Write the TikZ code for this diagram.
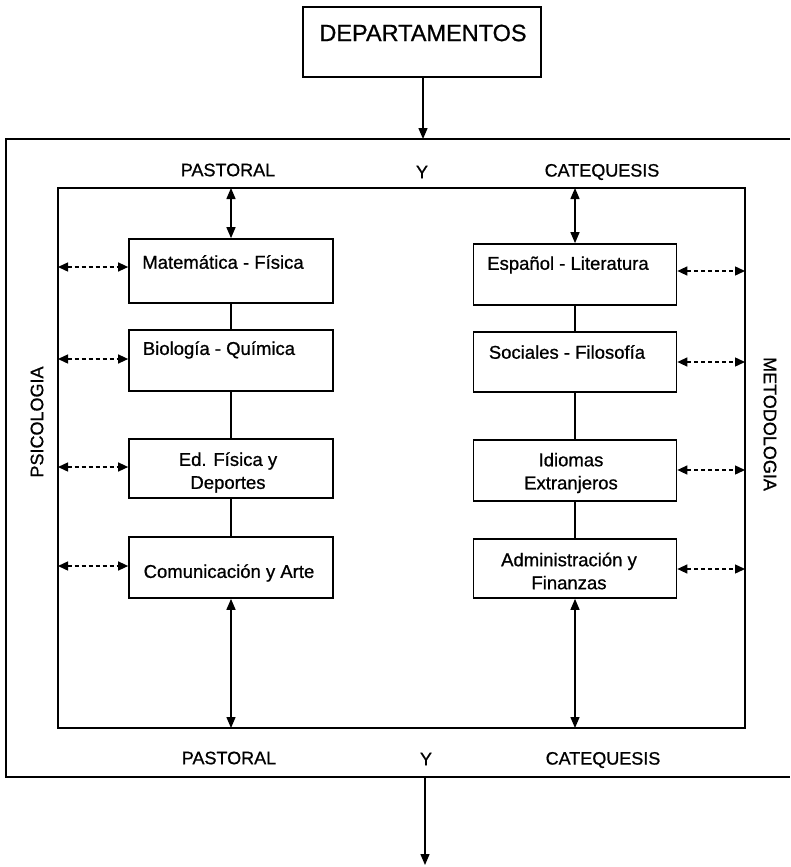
\documentclass[tikz,border=0pt]{standalone}
\usepackage{fontspec}
\setmainfont[FakeBold=0.8]{Liberation Sans}
\usetikzlibrary{arrows.meta}
\begin{document}
\begin{tikzpicture}[x=1pt,y=-1pt,
  box/.style={draw, line width=1.7pt, minimum width=204pt, inner sep=0pt},
  lbl/.style={font=\fontsize{18.5}{23}\selectfont, align=center, inner sep=0pt},
  ftxt/.style={font=\fontsize{18}{22}\selectfont, inner sep=0pt},
  frame/.style={line width=2pt},
  conn/.style={line width=1.3pt},
  tip/.style={line width=1.4pt, -{Triangle[length=11pt,width=9pt]}},
  dbl/.style={line width=1.4pt, {Triangle[length=11pt,width=9pt]}-{Triangle[length=11pt,width=9pt]}},
  dsh/.style={line width=1.4pt, dash pattern=on 4pt off 3pt, {Triangle[length=10pt,width=9pt]}-{Triangle[length=10pt,width=9pt]}}
]
\useasboundingbox (0,0) rectangle (790,867);

% top box
\node[draw, line width=1.8pt, minimum width=238pt, minimum height=70pt, inner sep=0pt] (dep) at (422,42) {};
\node[font=\fontsize{23.5}{27}\selectfont, inner sep=0pt] (dept) at (423,33) {DEPARTAMENTOS};

% frames
\draw[frame] (790,139) -- (6,139) -- (6,777) -- (790,777);
\draw[frame] (58,188) rectangle (745,728);
\coordinate (otop) at (423,139);
\coordinate (obot) at (425,777);
\coordinate (oend) at (425,865);

% frame labels
\node[ftxt] (p1) at (228,170) {PASTORAL};
\node[ftxt] (y1) at (422,172) {Y};
\node[ftxt] (c1) at (602,172) {CATEQUESIS};
\node[ftxt] (p2) at (229,758) {PASTORAL};
\node[ftxt] (y2) at (426,759) {Y};
\node[ftxt] (c2) at (603,760) {CATEQUESIS};
\node[ftxt, rotate=90] (psi) at (37,422) {PSICOLOGIA};
\node[ftxt, rotate=-90] (met) at (770,424) {METODOLOGIA};

% left column
\node[box, minimum height=64pt] (mat) at (231,271) {};
\node[box, minimum height=61pt] (bio) at (231,360.5) {};
\node[box, minimum height=59pt] (edf) at (231,468.5) {};
\node[box, minimum height=61pt] (com) at (231,567.5) {};
\node[lbl] (matt) at (223,262) {Matemática - Física};
\node[lbl] (biot) at (219,350) {Biología - Química};
\node[lbl] (edft) at (228,472.5) {Ed. Física y\\Deportes};
\node[lbl] (comt) at (229,573) {Comunicación y Arte};

% right column
\node[box, minimum width=203pt, minimum height=61pt] (esp) at (575,274.5) {};
\node[box, minimum width=203pt, minimum height=60pt] (soc) at (575,362) {};
\node[box, minimum width=203pt, minimum height=61pt] (idi) at (575,470.5) {};
\node[box, minimum width=203pt, minimum height=59pt] (adm) at (575,568.5) {};
\node[lbl] (espt) at (568,265) {Español - Literatura};
\node[lbl] (soct) at (567,352) {Sociales - Filosofía};
\node[lbl] (idit) at (571,473) {Idiomas\\Extranjeros};
\node[lbl] (admt) at (569,571) {Administración y\\Finanzas};

% main arrows
\draw[tip] (dep.south -| otop) -- (otop);
\draw[tip] (obot) -- (oend);

% vertical connectors
\draw[conn] (mat.south) -- (bio.north);
\draw[conn] (bio.south) -- (edf.north);
\draw[conn] (edf.south) -- (com.north);
\draw[conn] (esp.south) -- (soc.north);
\draw[conn] (soc.south) -- (idi.north);
\draw[conn] (idi.south) -- (adm.north);

% double arrows to inner frame
\coordinate (itl) at (231,188);
\coordinate (itr) at (575,188);
\coordinate (ibl) at (231,728);
\coordinate (ibr) at (575,728);
\draw[dbl] (itl) -- (mat.north);
\draw[dbl] (itr) -- (esp.north);
\draw[dbl] (com.south) -- (ibl);
\draw[dbl] (adm.south) -- (ibr);

% dashed arrows to sides
\coordinate (l1) at (58,267);
\coordinate (l2) at (58,359);
\coordinate (l3) at (58,467);
\coordinate (l4) at (58,566);
\coordinate (r1) at (745,271);
\coordinate (r2) at (745,362);
\coordinate (r3) at (745,470);
\coordinate (r4) at (745,569);
\draw[dsh] (l1) -- (l1 -| mat.west);
\draw[dsh] (l2) -- (l2 -| bio.west);
\draw[dsh] (l3) -- (l3 -| edf.west);
\draw[dsh] (l4) -- (l4 -| com.west);
\draw[dsh] (r1 -| esp.east) -- (r1);
\draw[dsh] (r2 -| soc.east) -- (r2);
\draw[dsh] (r3 -| idi.east) -- (r3);
\draw[dsh] (r4 -| adm.east) -- (r4);
\end{tikzpicture}
\end{document}
